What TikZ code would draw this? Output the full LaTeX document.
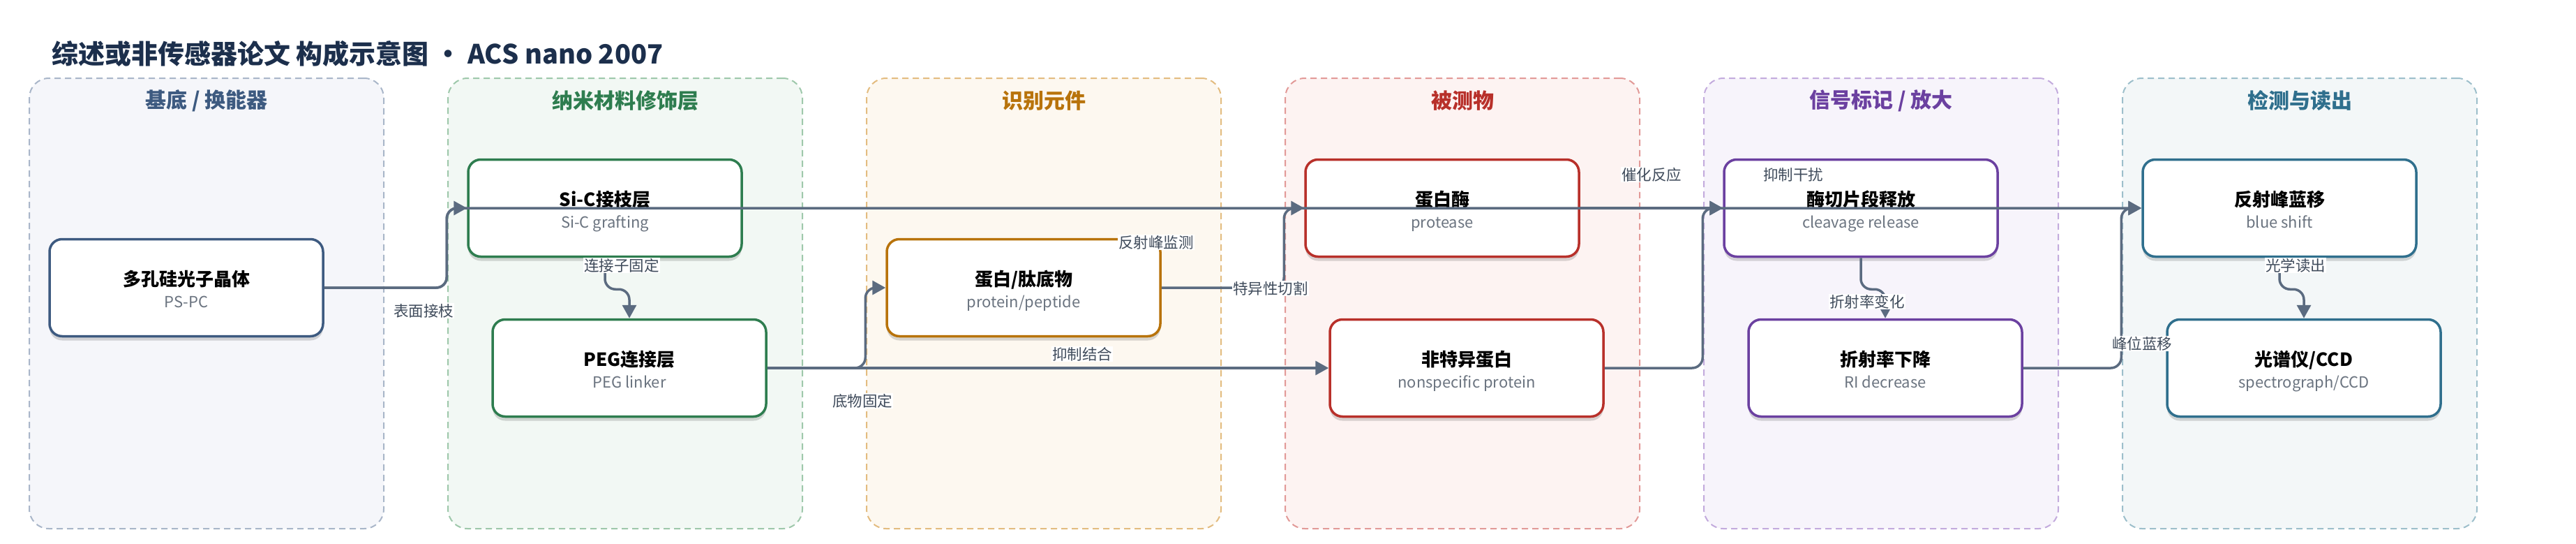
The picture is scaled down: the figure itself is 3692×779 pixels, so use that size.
\documentclass[tikz,border=0pt]{standalone}
\usepackage{fontspec}
\setmainfont{Noto Sans CJK SC}
\usepackage{tikz}
\usetikzlibrary{arrows.meta,shadows}

\definecolor{ink}{HTML}{1C2F4C}
\definecolor{edgec}{HTML}{5B6B80}
\definecolor{tagc}{HTML}{3F4B5B}
\definecolor{subc}{HTML}{6B7480}
\definecolor{baseT}{HTML}{3D5A80}\definecolor{baseD}{HTML}{A9B6C9}\definecolor{baseF}{HTML}{F5F6FA}
\definecolor{nanoT}{HTML}{2E7D4F}\definecolor{nanoD}{HTML}{9EC8AB}\definecolor{nanoF}{HTML}{F2F8F4}
\definecolor{recT}{HTML}{B8730B}\definecolor{recD}{HTML}{E3BC80}\definecolor{recF}{HTML}{FDF8F0}
\definecolor{anaT}{HTML}{B8302A}\definecolor{anaD}{HTML}{E29A98}\definecolor{anaF}{HTML}{FDF3F2}
\definecolor{sigT}{HTML}{6B40A0}\definecolor{sigD}{HTML}{C3ABDD}\definecolor{sigF}{HTML}{F7F4FB}
\definecolor{detT}{HTML}{2F6F8D}\definecolor{detD}{HTML}{9DBFCB}\definecolor{detF}{HTML}{F3F7F8}

\newcommand{\pair}[2]{{\fontsize{26}{31}\selectfont\bfseries\rule{0pt}{31pt}#1}\\{\color{subc}#2\rule[-6pt]{0pt}{6pt}}}

\begin{document}
\begin{tikzpicture}[x=1pt,y=-1pt,
  lane/.style 2 args={draw=#1,fill=#2,line width=2pt,dash pattern=on 9pt off 6pt,rounded corners=28pt,minimum width=508pt,minimum height=645pt},
  lanehead/.style={text=#1,font=\fontsize{30}{34}\selectfont\bfseries},
  box/.style={draw=#1,fill=white,line width=3.5pt,rounded corners=18pt,minimum width=392pt,minimum height=139pt,align=center,
    font=\fontsize{22}{31}\selectfont,drop shadow={shadow xshift=0pt,shadow yshift=-6pt,opacity=.15,fill=black}},
  flow/.style={draw=edgec,line width=3.5pt,rounded corners=15pt,-{Triangle[length=19pt,width=20pt]}},
  tag/.style={fill=white,inner sep=1pt,text=tagc,font=\fontsize{21.5}{24}\selectfont}]
\useasboundingbox (0,0) rectangle (3692,779);

\node[anchor=west,inner sep=0pt,text=ink,font=\fontsize{38}{44}\selectfont\bfseries] (title) at (74,77) {综述或非传感器论文 构成示意图 · ACS nano 2007};

% lanes
\node[lane={baseD}{baseF}] (lane1) at (296,434.5) {};
\node[lane={nanoD}{nanoF}] (lane2) at (896,434.5) {};
\node[lane={recD}{recF}] (lane3) at (1496,434.5) {};
\node[lane={anaD}{anaF}] (lane4) at (2096,434.5) {};
\node[lane={sigD}{sigF}] (lane5) at (2696,434.5) {};
\node[lane={detD}{detF}] (lane6) at (3296,434.5) {};
\node[lanehead=baseT] (head1) at (296,144) {基底 / 换能器};
\node[lanehead=nanoT] (head2) at (896,144) {纳米材料修饰层};
\node[lanehead=recT] (head3) at (1496,144) {识别元件};
\node[lanehead=anaT] (head4) at (2096,144) {被测物};
\node[lanehead=sigT] (head5) at (2696,144) {信号标记 / 放大};
\node[lanehead=detT] (head6) at (3296,144) {检测与读出};

% components
\node[box=baseT] (ps) at (267,412) {\pair{多孔硅光子晶体}{PS-PC}};
\node[box=nanoT] (sic) at (867,298) {\pair{Si-C接枝层}{Si-C grafting}};
\node[box=nanoT] (peg) at (902,527) {\pair{PEG连接层}{PEG linker}};
\node[box=recT] (sub) at (1467,412) {\pair{蛋白/肽底物}{protein/peptide}};
\node[box=anaT] (prot) at (2067,298) {\pair{蛋白酶}{protease}};
\node[box=anaT] (nsp) at (2102,527) {\pair{非特异蛋白}{nonspecific protein}};
\node[box=sigT] (clv) at (2667,298) {\pair{酶切片段释放}{cleavage release}};
\node[box=sigT] (ri) at (2702,527) {\pair{折射率下降}{RI decrease}};
\node[box=detT] (blue) at (3267,298) {\pair{反射峰蓝移}{blue shift}};
\node[box=detT] (ccd) at (3302,527) {\pair{光谱仪/CCD}{spectrograph/CCD}};

% connectors
\draw[flow] (ps.east) -| ([xshift=-29pt]sic.west) -- (sic.west);
\draw[flow] (ps.east) -| ([xshift=-29pt]sic.west) -- (blue.west);
\draw[flow] (sic.south) -- ++(0,45) -| (peg.north);
\draw[flow] (peg.east) -| ([xshift=-29pt]sub.west) -- (sub.west);
\draw[flow] (peg.east) -- (nsp.west);
\draw[flow] (sub.east) -| ([xshift=-29pt]prot.west) -- (prot.west);
\draw[flow] (prot.east) -- (clv.west);
\draw[flow] (nsp.east) -| ([xshift=-29pt]clv.west) -- (clv.west);
\draw[flow] (clv.south) -- ++(0,45) -| (ri.north);
\draw[flow] (ri.east) -| ([xshift=-29pt]blue.west) -- (blue.west);
\draw[flow] (blue.south) -- ++(0,45) -| (ccd.north);

\node[tag] (t1) at (607,445) {表面接枝};
\node[tag] (t2) at (891,380) {连接子固定};
\node[tag] (t3) at (1236,574) {底物固定};
\node[tag] (t4) at (1551,507) {抑制结合};
\node[tag] (t5) at (1657,347) {反射峰监测};
\node[tag] (t6) at (1821,413) {特异性切割};
\node[tag] (t7) at (2367,250) {催化反应};
\node[tag] (t8) at (2570,250) {抑制干扰};
\node[tag] (t9) at (2676,432) {折射率变化};
\node[tag] (t10) at (3070,492) {峰位蓝移};
\node[tag] (t11) at (3290,380) {光学读出};
\end{tikzpicture}
\end{document}
